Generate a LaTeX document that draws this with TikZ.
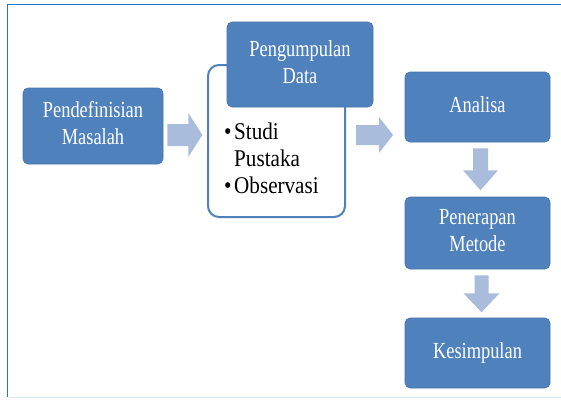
\documentclass[tikz,border=0pt]{standalone}
\usepackage{fontspec}
\setmainfont{Liberation Serif}
\usetikzlibrary{calc}
\definecolor{boxblue}{HTML}{4F81BD}
\definecolor{arrowc}{HTML}{A9BCDB}
\definecolor{framec}{HTML}{1F78CC}
\definecolor{framelight}{HTML}{D6E6F5}
\newcommand{\narrowtxt}[2][0.8]{\scalebox{#1}[1]{\begin{tabular}{@{}c@{}}#2\end{tabular}}}
\tikzset{
  bluebox/.style={draw=boxblue!90!black, line width=0.6pt, fill=boxblue, rounded corners=5pt,
    text=white, align=center, inner sep=2pt,
    font=\fontsize{23}{27}\selectfont},
  listbox/.style={draw=boxblue, line width=2pt, fill=white, rounded corners=11pt},
  blockarrow/.style={fill=arrowc, draw=none},
}
\begin{document}
\begin{tikzpicture}[x=1pt,y=-1pt]
\useasboundingbox (0,0) rectangle (561,399);
\fill[white] (0,0) rectangle (561,399);
% frame
\draw[framec, line width=1.5pt] (561,4.5) -- (7.5,4.5) -- (7.5,397);
\draw[framelight, line width=1pt] (8.5,397) -- (561,397);

% boxes
\node[bluebox, minimum width=140pt, minimum height=76pt] (def) at (93,126) {\narrowtxt{Pendefinisian\\Masalah}};
\node[listbox, minimum width=137pt, minimum height=152pt] (lst) at (276.5,141) {};
\node[bluebox, minimum width=146pt, minimum height=85pt] (peng) at (300,64.5) {\narrowtxt{Pengumpulan\\Data}};
\node[bluebox, minimum width=145pt, minimum height=70pt] (ana) at (477.5,107) {\narrowtxt{Analisa}};
\node[bluebox, minimum width=145pt, minimum height=72pt] (pen) at (477.5,233) {\narrowtxt{Penerapan\\Metode}};
\node[bluebox, minimum width=145pt, minimum height=70pt] (kes) at (477.5,353) {\narrowtxt{Kesimpulan}};

% list text
\node[anchor=base west, inner sep=0pt, font=\fontsize{24}{27}\selectfont] (items) at (224,139)
  {\scalebox{0.88}[1]{\begin{tabular}[t]{@{}l@{\hspace{3pt}}l@{}}\textbullet & Studi\\ & Pustaka\\ \textbullet & Observasi\end{tabular}}};

% right arrows
\coordinate (r1) at ($(def.east)+(4,9)$);
\fill[blockarrow] (r1) ++(0,-11) -- ++(21,0) -- ++(0,-11) -- ++(14,22) -- ++(-14,22) -- ++(0,-11) -- ++(-21,0) -- cycle;
\coordinate (r2) at ($(lst.east)+(10,-6)$);
\fill[blockarrow] (r2) ++(0,-10) -- ++(23,0) -- ++(0,-8) -- ++(14,18) -- ++(-14,18) -- ++(0,-8) -- ++(-23,0) -- cycle;

% down arrows
\coordinate (d1) at ($(ana.south)+(3,6)$);
\fill[blockarrow] (d1) ++(-7.5,0) -- ++(0,22) -- ++(-10,0) -- ++(17.5,20) -- ++(17.5,-20) -- ++(-10,0) -- ++(0,-22) -- cycle;
\coordinate (d2) at ($(pen.south)+(4,6)$);
\fill[blockarrow] (d2) ++(-7,0) -- ++(0,18) -- ++(-11,0) -- ++(18,19) -- ++(18,-19) -- ++(-11,0) -- ++(0,-18) -- cycle;
\end{tikzpicture}
\end{document}
